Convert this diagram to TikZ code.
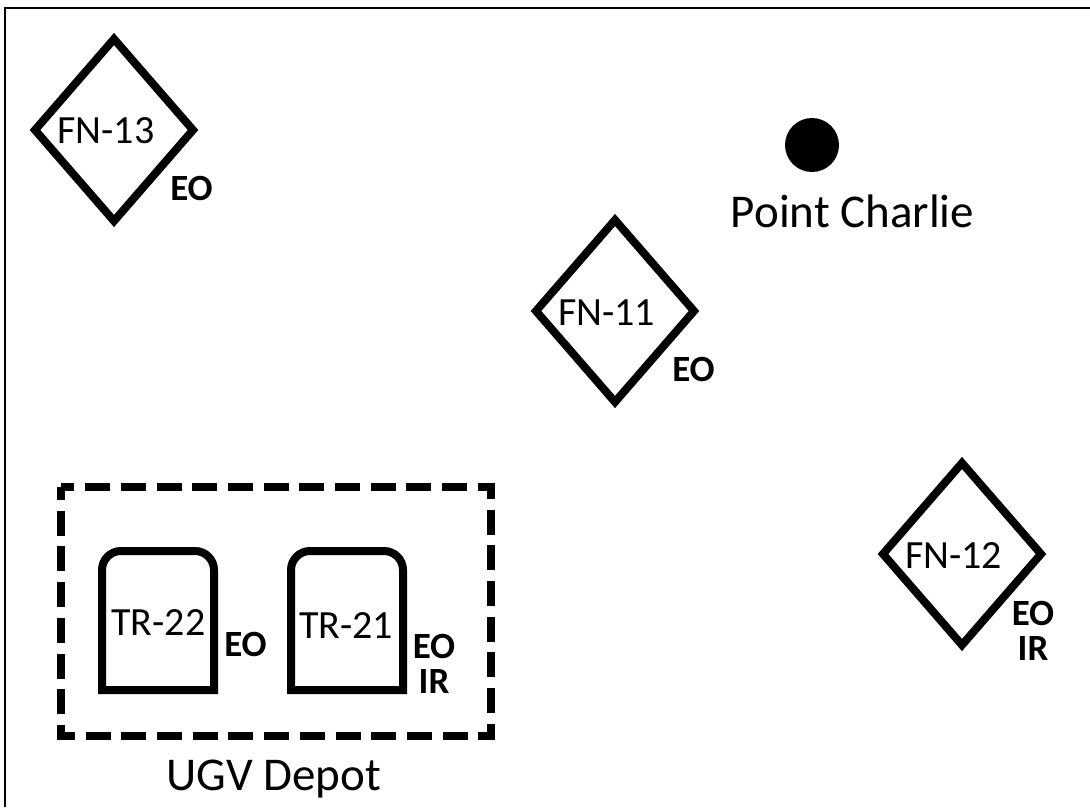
\documentclass[tikz,border=0pt]{standalone}
\usepackage{fontspec}
\setmainfont{Carlito}
\begin{document}
\begin{tikzpicture}[x=1pt,y=-1pt,
  thick shape/.style={line width=8pt, line join=miter},
  lbl/.style={font=\fontsize{40}{48}\selectfont, inner sep=0pt, anchor=base},
  biglbl/.style={font=\fontsize{47}{56}\selectfont, inner sep=0pt, anchor=base},
  sens/.style={font=\fontsize{37}{44}\selectfont\bfseries, inner sep=0pt, anchor=base},
  senstwo/.style={font=\fontsize{37}{35}\selectfont\bfseries, inner sep=0pt, align=center, anchor=base},
  frame/.style={line width=2.5pt}]
\useasboundingbox (0,0) rectangle (1090,807);
% frame
\draw[frame] (5,807) -- (5,8) -- (1090,8);
% diamonds
\draw[thick shape] (35,130) -- (114,39) -- (193,130) -- (114,221) -- cycle;
\draw[thick shape] (536,311) -- (615,220) -- (694,311) -- (615,402) -- cycle;
\draw[thick shape] (883,554) -- (962,463) -- (1041,554) -- (962,645) -- cycle;
% point charlie
\node[circle, fill=black, minimum size=54pt, inner sep=0pt] (pc) at (812,145) {};
\node[biglbl] (pclbl) at (852.5,227) {Point Charlie};
% depot
\draw[line width=8pt, dash pattern=on 25pt off 10.7pt, dash phase=12pt] (61,487) rectangle (491,736);
\node[biglbl] (depot) at (274,790) {UGV Depot};
% vehicles
\draw[thick shape] (102,690) -- (102,570) arc[start angle=180,end angle=90,radius=19pt] -- (195,551) arc[start angle=90,end angle=0,radius=19pt] -- (214,690) -- cycle;
\draw[thick shape] (291,690) -- (291,570) arc[start angle=180,end angle=90,radius=19pt] -- (384,551) arc[start angle=90,end angle=0,radius=19pt] -- (403,690) -- cycle;
% labels
\node[lbl] (fn13) at (106,143) {FN-13};
\node[lbl] (fn11) at (606.5,325) {FN-11};
\node[lbl] (fn12) at (953.5,568) {FN-12};
\node[lbl] (tr22) at (158.5,635) {TR-22};
\node[lbl] (tr21) at (346,638) {TR-21};
% sensors
\node[sens] (fn13eo) at (191.5,200) {EO};
\node[sens] (fn11eo) at (693.5,381.7) {EO};
\node[senstwo] (fn12s) at (1033,660) {EO\\IR};
\node[sens] (tr22eo) at (245.5,656.7) {EO};
\node[senstwo] (tr21s) at (434,693) {EO\\IR};
\end{tikzpicture}
\end{document}
